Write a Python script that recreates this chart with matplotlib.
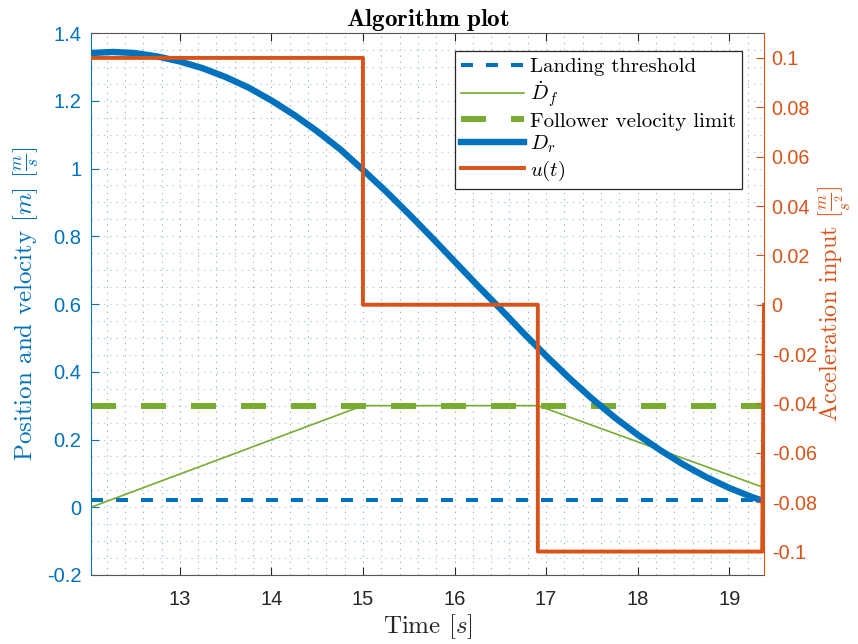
import matplotlib
matplotlib.use("Agg")
import matplotlib.pyplot as plt
from matplotlib.ticker import MultipleLocator, FormatStrFormatter
import numpy as np

plt.rcParams['mathtext.fontset'] = 'cm'
plt.rcParams['axes.unicode_minus'] = False
plt.rcParams['lines.scale_dashes'] = False
plt.rcParams['font.family'] = ['Liberation Sans', 'DejaVu Sans']

AZUL = '#0072BD'
LARANJA = '#D95319'
VERDE = '#77AC30'
CINZA = '#262626'

# dados
t_dr = [12.03, 12.27, 12.5, 12.75, 13.0, 13.25, 13.5, 13.75, 14.0, 14.25,
        14.5, 14.75, 15.0, 15.25, 15.5, 15.75, 16.0, 16.25, 16.5, 16.75,
        17.0, 17.25, 17.5, 17.75, 18.0, 18.25, 18.5, 18.75, 19.0, 19.25, 19.38]
d_r = [1.341, 1.344, 1.341, 1.331, 1.316, 1.296, 1.270, 1.239, 1.201, 1.158,
       1.110, 1.057, 0.996, 0.933, 0.866, 0.797, 0.726, 0.655, 0.586, 0.515,
       0.447, 0.382, 0.321, 0.265, 0.214, 0.168, 0.126, 0.089, 0.057, 0.030, 0.018]

t_df = [12.03, 15.0, 16.91, 19.38]
d_f = [0.0, 0.3, 0.3, 0.058]

t_lim = [12.03, 19.38]
limiar_pouso = [0.02, 0.02]
limite_vel = [0.3, 0.3]

t_u = [12.03, 15.0, 15.0, 16.91, 16.91, 19.36, 19.38]
u = [0.1, 0.1, 0.0, 0.0, -0.1, -0.1, 0.0]

x_ticks = [13, 14, 15, 16, 17, 18, 19]

fig = plt.figure(figsize=(8.58, 6.44), dpi=100)
ax = fig.add_axes([91 / 858, 1 - 575 / 644, (764 - 91) / 858, (575 - 33) / 644])
ax2 = ax.twinx()

l1, = ax.plot(t_lim, limiar_pouso, color=AZUL, lw=2.9, linestyle=(0, (8.6, 9.4)),
              label='Landing threshold')
l2, = ax.plot(t_df, d_f, color=VERDE, lw=1.2, label=r'$\dot{D}_f$')
l3, = ax.plot(t_lim, limite_vel, color=VERDE, lw=4.3, linestyle=(0, (18, 18)),
              label='Follower velocity limit')
l4, = ax.plot(t_dr, d_r, color=AZUL, lw=4.6, label=r'$D_r$')
l5, = ax2.plot(t_u, u, color=LARANJA, lw=2.8, label=r'$u(t)$')

ax.set_xlim(12.03, 19.38)
ax.set_ylim(-0.2, 1.4)
ax2.set_ylim(-0.1095, 0.1101)

ax.set_xticks(x_ticks)
ax.xaxis.set_minor_locator(MultipleLocator(0.2))
ax.yaxis.set_major_locator(MultipleLocator(0.2))
ax.yaxis.set_minor_locator(MultipleLocator(0.05))
ax.yaxis.set_major_formatter(FormatStrFormatter('%g'))
ax2.yaxis.set_major_locator(MultipleLocator(0.02))
ax2.yaxis.set_major_formatter(plt.FuncFormatter(lambda v, p: '%g' % (round(v, 4) + 0.0)))

ax.grid(which='both', axis='x', color='#b0b0b0', linestyle=(0, (1, 3.5)), lw=0.8)
ax.grid(which='both', axis='y', color='#a9d0ec', linestyle=(0, (1, 3.5)), lw=0.8)
ax.set_axisbelow(True)

ax.tick_params(which='minor', length=0)
ax2.tick_params(which='minor', length=0)
ax.tick_params(axis='x', direction='in', top=True, length=6, colors=CINZA, labelsize=14.5, pad=11)
ax.tick_params(axis='y', direction='in', right=False, length=6, colors=AZUL, labelsize=14.5, pad=7)
ax2.tick_params(axis='y', direction='in', length=6, colors=LARANJA, labelsize=14.2, pad=5.5)

for s in ['top', 'bottom']:
    ax.spines[s].set_color('#555555')
ax.spines['left'].set_color(AZUL)
ax.spines['right'].set_visible(False)
ax2.spines['right'].set_color(LARANJA)
for s in ['left', 'top', 'bottom']:
    ax2.spines[s].set_visible(False)

ax.set_xlabel(r'Time $[s]$', family='cmr10', fontsize=18, color=CINZA, labelpad=2)
ax.set_ylabel(r'Position and velocity $[m]$ $[\frac{m}{s}]$', family='cmr10',
              fontsize=18, color=AZUL, labelpad=4)
ax2.set_ylabel(r'Acceleration input $[\frac{m}{s^2}]$', family='cmr10',
               fontsize=17.5, color=LARANJA, labelpad=0)
ax.set_title(r'$\mathbf{Algorithm\ plot}$', fontsize=18, color='black', pad=5)

leg = ax2.legend(handles=[l1, l2, l3, l4, l5], loc='upper right',
                 bbox_to_anchor=(0.968, 0.966), borderaxespad=0,
                 prop={'family': 'cmr10', 'size': 15}, fancybox=False,
                 framealpha=1, edgecolor=CINZA, handlelength=3.0,
                 handletextpad=0.3, labelspacing=0.15, borderpad=0.3)
leg.get_frame().set_linewidth(0.9)

fig.savefig('out.png', dpi=100)
